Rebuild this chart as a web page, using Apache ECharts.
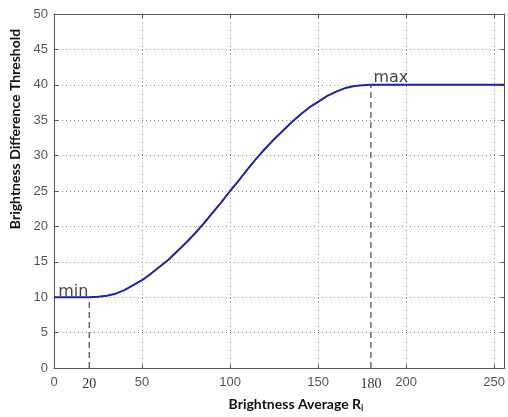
<!DOCTYPE html>
<html>
<head>
<meta charset="utf-8">
<script src="https://cdn.jsdelivr.net/npm/echarts@6/dist/echarts.min.js"></script>
<style>
html,body{margin:0;padding:0;background:#fff;}
#c{width:508px;height:417px;}
</style>
</head>
<body>
<div id="c"></div>
<script>
// Curve: brightness average -> brightness difference threshold
const xVals = [0,10,20,25,30,35,40,45,50,55,60,65,70,75,80,85,90,95,100,105,110,115,120,125,130,135,140,145,150,155,160,165,170,175,180,200,220,240,256];
const yVals = [10,10,10,10.05,10.2,10.5,11,11.7,12.4,13.3,14.3,15.3,16.5,17.7,19,20.4,21.9,23.4,25,26.5,28.1,29.6,31,32.3,33.5,34.7,35.8,36.8,37.6,38.4,39,39.5,39.8,39.95,40,40,40,40,40];
// Annotated points
const markerX = [20, 180];
const markerY = [10, 40];
const markerNames = ['min', 'max'];
// Axis ranges / ticks
const xMin = 0, xMax = 256, xStep = 50;
const yMin = 0, yMax = 50, yStep = 5;
const extraXLabels = [20, 180];
const xTitle = 'Brightness Average R';
const xTitleSub = 'i';
const yTitle = 'Brightness Difference Threshold';

const chart = echarts.init(document.getElementById('c'), null, {renderer: 'canvas'});

const axisLineColor = '#555';
const gridLine = {show: true, lineStyle: {color: '#8a8a8a', type: [1, 3], width: 1}};
const tickLabelStyle = {color: '#555', fontFamily: 'Liberation Sans', fontSize: 13};
const tickStyle = {show: true, inside: true, length: 4, lineStyle: {color: axisLineColor}};
const lineStyleAxis = {show: true, onZero: false, lineStyle: {color: axisLineColor, width: 1}};

const curve = xVals.map((x, i) => [x, yVals[i]]);

option = {
  animation: false,
  backgroundColor: '#fff',
  grid: {left: 54, right: 1, top: 14, bottom: 49, containLabel: false},
  xAxis: [
    {
      type: 'value', position: 'bottom', min: xMin, max: xMax, interval: xStep,
      axisLine: lineStyleAxis,
      axisTick: tickStyle,
      axisLabel: Object.assign({margin: 8, showMaxLabel: false}, tickLabelStyle),
      splitLine: gridLine
    },
    {
      type: 'value', position: 'top', min: xMin, max: xMax, interval: xStep,
      axisLine: lineStyleAxis,
      axisTick: tickStyle,
      axisLabel: {show: false}, splitLine: {show: false}
    },
    {
      type: 'value', position: 'bottom', min: xMin, max: xMax,
      axisLine: {show: false, onZero: false}, axisTick: {show: false}, splitLine: {show: false},
      axisLabel: {
        show: true, customValues: extraXLabels, margin: 9,
        color: '#333', fontFamily: 'Liberation Serif', fontSize: 14
      }
    }
  ],
  yAxis: [
    {
      type: 'value', position: 'left', min: yMin, max: yMax, interval: yStep,
      axisLine: lineStyleAxis,
      axisTick: tickStyle,
      axisLabel: Object.assign({margin: 6}, tickLabelStyle),
      splitLine: gridLine
    },
    {
      type: 'value', position: 'right', min: yMin, max: yMax, interval: yStep,
      axisLine: lineStyleAxis,
      axisTick: tickStyle,
      axisLabel: {show: false}, splitLine: {show: false}
    }
  ],
  series: [
    {
      type: 'line', xAxisIndex: 0, yAxisIndex: 0,
      data: [[markerX[0], yMin], [markerX[0], markerY[0]]],
      symbol: 'none', lineStyle: {color: '#222', width: 1, type: [6, 4]}, z: 3
    },
    {
      type: 'line', xAxisIndex: 0, yAxisIndex: 0,
      data: [[markerX[1], yMin], [markerX[1], markerY[1]]],
      symbol: 'none', lineStyle: {color: '#222', width: 1, type: [6, 4]}, z: 3
    },
    {
      type: 'line', xAxisIndex: 0, yAxisIndex: 0,
      data: curve, symbol: 'none', smooth: false,
      lineStyle: {color: '#1f1fb0', width: 2}, z: 5
    },
    {
      type: 'scatter', xAxisIndex: 0, yAxisIndex: 0,
      symbolSize: 0, z: 6,
      data: [
        {value: [markerX[0], markerY[0]], name: markerNames[0],
         label: {offset: [-16, 3]}},
        {value: [markerX[1], markerY[1]], name: markerNames[1],
         label: {offset: [20, 1]}}
      ],
      label: {
        show: true, position: 'top', distance: 0,
        formatter: p => p.name,
        color: '#111', fontFamily: 'DejaVu Sans', fontSize: 16
      }
    }
  ],
  graphic: [
    {
      type: 'text', x: 8, y: 129, rotation: Math.PI / 2,
      style: {
        text: yTitle, fill: '#111', font: 'bold 14px Lato',
        align: 'center', verticalAlign: 'top'
      }
    },
    {
      type: 'text', x: 296, y: 404,
      style: {
        text: '{a|' + xTitle + '}{b|' + xTitleSub + '}',
        align: 'center', verticalAlign: 'middle',
        rich: {
          a: {fill: '#111', fontFamily: 'Lato', fontWeight: 'bold', fontSize: 14},
          b: {fill: '#111', fontFamily: 'Lato', fontWeight: 'bold', fontSize: 9, padding: [8, 0, 0, 0]}
        }
      }
    }
  ]
};
chart.setOption(option);
</script>
</body>
</html>
